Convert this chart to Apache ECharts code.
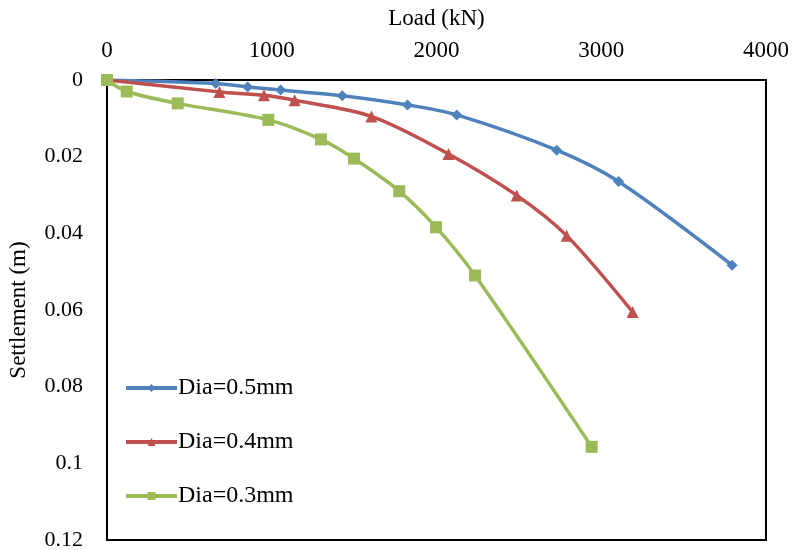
<!DOCTYPE html>
<html>
<head>
<meta charset="utf-8">
<script src="https://cdn.jsdelivr.net/npm/echarts@6/dist/echarts.min.js"></script>
<style>
  html, body { margin: 0; padding: 0; background: #fff; }
  #chart { width: 794px; height: 550px; }
</style>
</head>
<body>
<div id="chart"></div>
<script>
// load (kN) vs settlement (m)
var load_05 = [0, 660, 854, 1054, 1428, 1824, 2123, 2730, 3105, 3794];
var settle_05 = [0, 0.0009, 0.0018, 0.0026, 0.0041, 0.0065, 0.0091, 0.0183, 0.0265, 0.0483];

var load_04 = [0, 682, 953, 1139, 1605, 2073, 2487, 2790, 3190];
var settle_04 = [0, 0.0031, 0.0040, 0.0053, 0.0095, 0.0193, 0.0301, 0.0406, 0.0605];

var load_03 = [0, 120, 429, 979, 1299, 1499, 1774, 1997, 2234, 2942];
var settle_03 = [0, 0.0030, 0.0061, 0.0104, 0.0155, 0.0205, 0.0290, 0.0384, 0.0510, 0.0957];

var series_names = ['Dia=0.5mm', 'Dia=0.4mm', 'Dia=0.3mm'];
var x_ticks = [0, 1000, 2000, 3000, 4000];

function pairs(xs, ys){
  return xs.map(function(x, i){ return [x, ys[i]]; });
}

var font = '"Liberation Serif", "Times New Roman", serif';

var chart = echarts.init(document.getElementById('chart'));

function mk_series(name, data, color, symbol, size){
  return {
    name: name,
    type: 'line',
    data: data,
    smooth: 0.3,
    symbol: symbol,
    symbolSize: size,
    showAllSymbol: true,
    lineStyle: { color: color, width: 3.5 },
    itemStyle: { color: color },
    emphasis: { disabled: true }
  };
}

var option = {
  animation: false,
  grid: {
    left: 107, right: 28, top: 80, bottom: 10,
    outerBoundsMode: 'none',
    containLabel: false,
    show: true, borderColor: '#000', borderWidth: 2, backgroundColor: '#fff'
  },
  legend: {
    orient: 'vertical',
    left: 119, top: 371,
    itemGap: 30,
    itemWidth: 51, itemHeight: 10,
    lineStyle: { width: 4 },
    textStyle: { fontFamily: font, fontSize: 24, color: '#000', padding: [0, 0, 0, -4] },
    data: series_names
  },
  xAxis: {
    type: 'value',
    position: 'top',
    min: x_ticks[0], max: x_ticks[x_ticks.length - 1], interval: 1000,
    name: 'Load (kN)',
    nameLocation: 'middle',
    nameGap: 50,
    nameTextStyle: { fontFamily: font, fontSize: 23, color: '#000' },
    axisLine: { show: false },
    axisTick: { show: false },
    splitLine: { show: false },
    axisLabel: {
      fontFamily: font, fontSize: 23, color: '#000', margin: 18,
      formatter: function(v){ return String(v); }
    }
  },
  yAxis: {
    type: 'value',
    inverse: true,
    min: 0, max: 0.12, interval: 0.02,
    name: 'Settlement (m)',
    nameLocation: 'middle',
    nameGap: 77,
    nameTextStyle: { fontFamily: font, fontSize: 23, color: '#000' },
    axisLine: { show: false },
    axisTick: { show: false },
    splitLine: { show: false },
    axisLabel: {
      fontFamily: font, fontSize: 22, color: '#000', margin: 24,
      formatter: function(v){ return +v.toFixed(2) + ''; }
    }
  },
  series: [
    mk_series(series_names[0], pairs(load_05, settle_05), '#4F81BD', 'diamond', 11),
    mk_series(series_names[1], pairs(load_04, settle_04), '#C0504D', 'triangle', 12),
    mk_series(series_names[2], pairs(load_03, settle_03), '#9BBB59', 'rect', 12)
  ]
};

chart.setOption(option);
</script>
</body>
</html>
